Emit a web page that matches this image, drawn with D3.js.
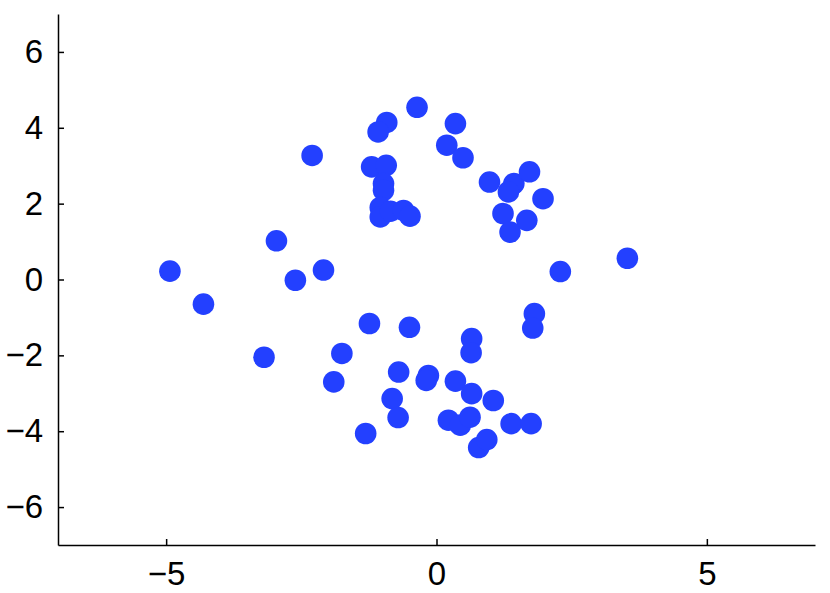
<!DOCTYPE html>
<html lang="en">
<head>
  <meta charset="UTF-8">
  <title>Scatter</title>
  <script src="https://d3js.org/d3.v7.min.js"></script>
  <style>
    body { margin: 0; background: #fff; }
    .axis path, .axis line { stroke: #000; stroke-width: 1.5; }
    .axis text { font-family: "Liberation Sans", Arial, sans-serif; font-size: 33px; fill: #000; }
  </style>
</head>
<body>
<svg id="chart"></svg>
<script>
// point coordinates
var xs = [-4.93, -4.31, -2.96, -2.61, -2.30, -2.09, -3.19, -1.24, -1.75, -1.90,
          -1.31, -0.36, -0.92, -1.08, 0.35, 0.19, 0.49, -1.20, -0.93, -0.98,
          -0.98, -1.04, -1.04, -0.85, -0.61, -0.49, 0.98, 1.43, 1.33, 1.72,
          1.97, 1.23, 1.67, 1.36, 2.29, 3.53, -0.50, 1.81, 1.78, 0.65,
          0.64, -0.70, -0.15, -0.19, 0.35, 0.65, 1.05, -0.82, -0.71, 0.22,
          0.44, 0.62, 1.38, 1.75, 0.78, 0.93];
var ys = [0.22, -0.65, 1.02, -0.02, 3.27, 0.25, -2.05, -1.16, -1.95, -2.70,
          -4.06, 4.54, 4.14, 3.89, 4.11, 3.54, 3.21, 2.97, 3.01, 2.53,
          2.35, 1.90, 1.65, 1.80, 1.82, 1.67, 2.57, 2.53, 2.31, 2.84,
          2.13, 1.74, 1.56, 1.25, 0.21, 0.56, -1.26, -0.90, -1.28, -1.56,
          -1.93, -2.44, -2.53, -2.66, -2.68, -3.01, -3.19, -3.14, -3.64, -3.71,
          -3.84, -3.63, -3.80, -3.80, -4.43, -4.22];
var xTicks = [-5, 0, 5];
var yTicks = [-6, -4, -2, 0, 2, 4, 6];

var W = 830, H = 593;
var margin = {top: 14, right: 15, bottom: 48, left: 58};
var width = W - margin.left - margin.right,
    height = H - margin.top - margin.bottom;

var svg = d3.select("#chart")
    .attr("width", W)
    .attr("height", H)
  .append("g")
    .attr("transform", `translate(${margin.left},${margin.top})`);

var x = d3.scaleLinear().domain([-7, 7]).range([0, width]);
var y = d3.scaleLinear().domain([-7, 7]).range([height, 0]);

var fmt = function(d) { return d < 0 ? "\u2212" + Math.abs(d) : d; };

var gx = svg.append("g")
    .attr("class", "axis")
    .attr("transform", `translate(0,${height})`)
    .call(d3.axisBottom(x).tickValues(xTicks).tickSize(-6).tickSizeOuter(0).tickPadding(17).tickFormat(fmt));
gx.selectAll("text").attr("dy", "0.71em");

var gy = svg.append("g")
    .attr("class", "axis")
    .call(d3.axisLeft(y).tickValues(yTicks).tickSize(-6).tickSizeOuter(0).tickPadding(15).tickFormat(fmt));

var pts = d3.range(xs.length).map(function(i) { return {x: xs[i], y: ys[i]}; });

svg.selectAll(".dot")
    .data(pts)
  .enter().append("circle")
    .attr("class", "dot")
    .attr("cx", function(d) { return x(d.x); })
    .attr("cy", function(d) { return y(d.y); })
    .attr("r", 10.8)
    .style("fill", "#2340ff");
</script>
</body>
</html>
